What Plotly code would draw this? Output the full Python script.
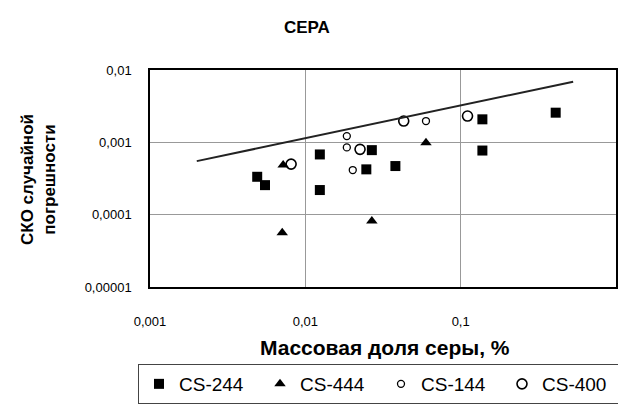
import plotly.graph_objects as go

cs244_x = [0.0049, 0.0055, 0.0124, 0.0124, 0.0268, 0.0247, 0.038, 0.138, 0.138, 0.409]
cs244_y = [0.000334, 0.000256, 0.00068, 0.000219, 0.00078, 0.000423, 0.00047, 0.00208, 0.00077, 0.00257]

cs444_x = [0.0072, 0.0071, 0.0268, 0.0598]
cs444_y = [0.000485, 0.0000562, 0.0000817, 0.00099]

cs144_x = [0.0185, 0.0185, 0.0202, 0.0598]
cs144_y = [0.00122, 0.00085, 0.000414, 0.00197]

cs400_x = [0.0081, 0.0225, 0.043, 0.1107]
cs400_y = [0.0005, 0.0008, 0.00197, 0.00231]

line_x = [0.002, 0.53]
line_y = [0.00055, 0.0069]

x_ticks = [0.001, 0.01, 0.1, 1]
x_labels = ["0,001", "0,01", "0,1", "1"]
y_ticks = [0.00001, 0.0001, 0.001, 0.01]
y_labels = ["0,00001", "0,0001", "0,001", "0,01"]

fig = go.Figure()
fig.add_trace(go.Scatter(x=cs244_x, y=cs244_y, mode="markers", name="CS-244",
                         marker=dict(symbol="square", size=10, color="black")))
fig.add_trace(go.Scatter(x=cs444_x, y=cs444_y, mode="markers", name="CS-444",
                         marker=dict(symbol="triangle-up", size=10, color="black")))
fig.add_trace(go.Scatter(x=cs144_x, y=cs144_y, mode="markers", name="CS-144",
                         marker=dict(symbol="circle-open", size=7, color="black", line=dict(width=1.3))))
fig.add_trace(go.Scatter(x=cs400_x, y=cs400_y, mode="markers", name="CS-400",
                         marker=dict(symbol="circle-open", size=10, color="black", line=dict(width=1.6))))
fig.add_trace(go.Scatter(x=line_x, y=line_y, mode="lines", showlegend=False,
                         line=dict(color="#222", width=2)))

font_family = "Liberation Sans, Arial, sans-serif"
fig.update_layout(
    width=618, height=405,
    margin=dict(l=150, r=2, t=70, b=118, autoexpand=False),
    paper_bgcolor="white", plot_bgcolor="white",
    font=dict(family=font_family, color="black", size=13),
    showlegend=True,
    legend=dict(orientation="h", x=-(150-138)/466, xanchor="left", y=-(364-287)/217, yanchor="top",
                bordercolor="#444", borderwidth=1, font=dict(size=19),
                entrywidth=76, entrywidthmode="pixels", itemwidth=30,
                tracegroupgap=0, valign="middle"),
)
fig.add_annotation(text="<b>СЕРА</b>", x=(307-150)/466, y=1 + (70-28)/217, xref="paper", yref="paper",
                   showarrow=False, font=dict(size=17), xanchor="center", yanchor="middle")
fig.add_annotation(text="<b>Массовая доля серы, %</b>", x=(385-150)/466, y=-(347-287)/217,
                   xref="paper", yref="paper", showarrow=False, font=dict(size=21),
                   xanchor="center", yanchor="middle")
fig.add_annotation(text="<b>СКО случайной<br>погрешности</b>", x=-(150-38)/466, y=(287-180)/217,
                   xref="paper", yref="paper", showarrow=False, font=dict(size=17),
                   textangle=-90, xanchor="center", yanchor="middle")

fig.update_xaxes(type="log", range=[-3, 0], tickvals=x_ticks, ticktext=x_labels,
                 showgrid=True, gridcolor="#999", gridwidth=1,
                 showline=True, linecolor="black", linewidth=1.5, mirror=True,
                 ticks="", ticklabelstandoff=22, zeroline=False,
                 tickfont=dict(size=13))
fig.update_yaxes(type="log", range=[-5, -2], tickvals=y_ticks, ticktext=y_labels,
                 showgrid=True, gridcolor="#999", gridwidth=1,
                 showline=True, linecolor="black", linewidth=1.5, mirror=True,
                 ticks="", ticklabelstandoff=14, zeroline=False,
                 tickfont=dict(size=13))

fig.write_html("out.html")
